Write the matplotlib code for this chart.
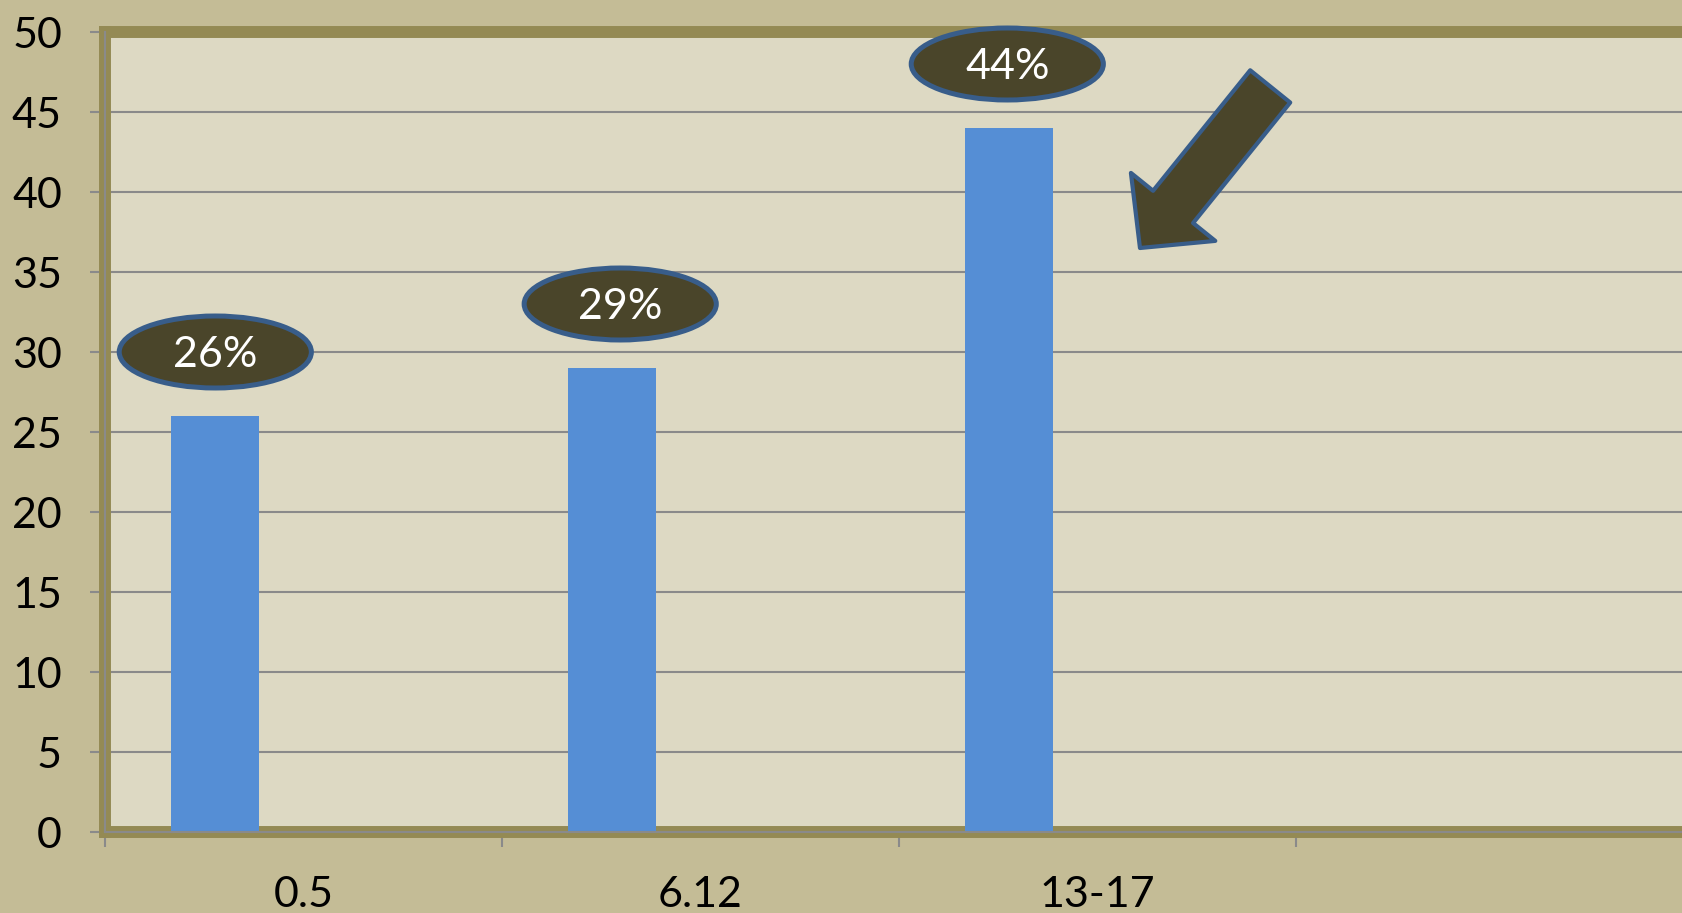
import matplotlib

matplotlib.use("Agg")
import matplotlib.pyplot as plt
from matplotlib.patches import Ellipse


categories = ["0.5", "6.12", "13-17"]
values = [26, 29, 44]
value_labels = ["26%", "29%", "44%"]
y_ticks = list(range(0, 55, 5))
n_slots = 4  # the axis has one empty category slot at the right

# arrow pointing at the tallest bar (data coords: tail -> tip)
arrow_tail = (2.935, 46.6)
arrow_tip = (2.607, 36.5)

FIG_BG = "#c4bc96"
PLOT_BG = "#ddd9c3"
FRAME = "#948a54"
BAR = "#558ed5"
BADGE_FILL = "#4a452a"
BADGE_EDGE = "#385d8a"
GRID = "#8a8a8a"


def main() -> None:
    plt.rcParams["font.family"] = ["Lato", "DejaVu Sans"]

    fig = plt.figure(figsize=(16.82, 9.13), dpi=100, facecolor=FIG_BG)
    ax = fig.add_axes([105 / 1682, 81 / 913, (1693 - 105) / 1682, 800 / 913])
    ax.set_facecolor(PLOT_BG)

    # clustered layout of 3 series with 150% gap, only the first one has data
    bar_w = 1 / (3 + 1.5)
    offset = 1.5 * bar_w / 2 + bar_w / 2
    xs = [i + offset for i in range(len(values))]
    ax.bar(xs, values, width=bar_w, color=BAR, zorder=3.5)

    # badges sit a little to the right of the bar centre in the original
    nudge = [0.0, 0.02, -0.005]
    for x, dx, v, text in zip(xs, nudge, values, value_labels):
        ax.add_patch(Ellipse((x + dx, v + 4), 0.484, 4.5, facecolor=BADGE_FILL,
                             edgecolor=BADGE_EDGE, linewidth=3.6, zorder=5, clip_on=False))
        ax.text(x + dx, v + 3.8, text, color="white", fontsize=31, ha="center", va="center",
                zorder=6)

    ax.annotate("", xy=arrow_tip, xytext=arrow_tail,
                arrowprops=dict(arrowstyle="simple,head_length=38,head_width=78,tail_width=37",
                                mutation_scale=1, fc=BADGE_FILL, ec=BADGE_EDGE, lw=3,
                                shrinkA=0, shrinkB=0),
                zorder=5)

    ax.set_xlim(0, n_slots)
    ax.set_ylim(0, 50)
    ax.set_yticks(y_ticks)
    ax.set_xticks(range(n_slots + 1))
    ax.set_xticklabels([])
    ax.set_xticks([i + 0.5 for i in range(len(categories))], minor=True)
    ax.set_xticklabels(categories, minor=True)

    ax.grid(axis="y", color=GRID, linewidth=1.5, zorder=1)
    ax.set_axisbelow(True)

    for spine in ax.spines.values():
        spine.set_color(FRAME)
        spine.set_linewidth(8.6)
        spine.set_zorder(3)
    ax.axhline(0, color=GRID, linewidth=1.5, zorder=4, clip_on=False)
    ax.axvline(0, color=GRID, linewidth=1.5, zorder=4, clip_on=False)

    ax.tick_params(axis="y", length=11, width=1.5, color=GRID, pad=20, labelsize=31)
    ax.tick_params(axis="x", which="major", length=11, width=1.5, color=GRID)
    ax.tick_params(axis="x", which="minor", length=0, pad=32, labelsize=31)

    fig.savefig("out.png", dpi=100, facecolor=FIG_BG)
    plt.close(fig)


if __name__ == "__main__":
    main()
